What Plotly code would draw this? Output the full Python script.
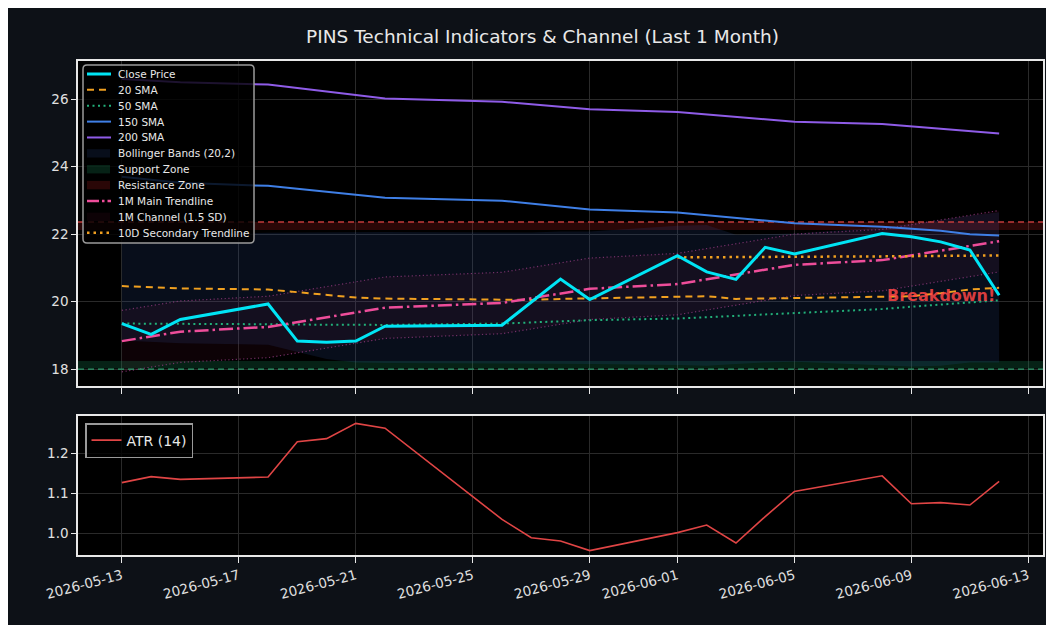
import plotly.graph_objects as go
from plotly.subplots import make_subplots

# ---------------- data ----------------
dates = ["2026-05-13", "2026-05-14", "2026-05-15", "2026-05-18", "2026-05-19",
         "2026-05-20", "2026-05-21", "2026-05-22", "2026-05-26", "2026-05-27",
         "2026-05-28", "2026-05-29", "2026-06-01", "2026-06-02", "2026-06-03",
         "2026-06-04", "2026-06-05", "2026-06-08", "2026-06-09", "2026-06-10",
         "2026-06-11", "2026-06-12"]

close = [19.35, 19.03, 19.47, 19.93, 18.83, 18.80, 18.83, 19.27, 19.30, 19.98,
         20.67, 20.06, 21.36, 20.88, 20.66, 21.61, 21.41, 22.02, 21.92, 21.77,
         21.53, 20.19]

sma20 = [20.46, 20.42, 20.39, 20.36, 20.28, 20.18, 20.12, 20.09, 20.05, 20.05,
         20.08, 20.10, 20.16, 20.16, 20.08, 20.09, 20.10, 20.14, 20.16, 20.25,
         20.36, 20.41]

sma50 = [19.35, 19.35, 19.34, 19.33, 19.32, 19.31, 19.30, 19.31, 19.35, 19.38,
         19.42, 19.45, 19.50, 19.54, 19.57, 19.61, 19.65, 19.78, 19.85, 19.92,
         19.98, 20.04]

sma150 = [23.70, 23.62, 23.52, 23.43, 23.34, 23.25, 23.16, 23.08, 22.99, 22.90,
          22.81, 22.73, 22.64, 22.56, 22.48, 22.40, 22.32, 22.22, 22.17, 22.10,
          22.00, 21.96]

sma200 = [26.60, 26.55, 26.50, 26.43, 26.33, 26.22, 26.12, 26.02, 25.92, 25.85,
          25.78, 25.70, 25.62, 25.55, 25.47, 25.40, 25.33, 25.26, 25.19, 25.12,
          25.05, 24.98]

bb_upper = [22.00, 22.00, 22.02, 22.04, 22.05, 22.05, 22.06, 22.06, 22.05, 22.05,
            22.08, 22.08, 22.25, 22.27, 21.98, 22.00, 22.02, 22.20, 22.30, 22.42,
            22.55, 22.65]

bb_lower = [18.85, 18.80, 18.77, 18.72, 18.50, 18.30, 18.20, 18.18, 18.17, 18.17,
            18.16, 18.15, 18.12, 18.10, 18.15, 18.20, 18.22, 18.12, 18.08, 18.10,
            18.20, 18.20]

trend_main = [18.83, 18.97, 19.11, 19.25, 19.39, 19.54, 19.68, 19.82, 19.96, 20.10,
              20.24, 20.38, 20.52, 20.66, 20.80, 20.95, 21.09, 21.23, 21.37, 21.51,
              21.65, 21.79]

channel_upper = [19.74, 19.88, 20.02, 20.16, 20.30, 20.45, 20.59, 20.73, 20.87, 21.01,
                 21.15, 21.29, 21.43, 21.57, 21.71, 21.86, 22.00, 22.14, 22.28, 22.42,
                 22.56, 22.70]

channel_lower = [17.92, 18.06, 18.20, 18.34, 18.48, 18.63, 18.77, 18.91, 19.05, 19.19,
                 19.33, 19.47, 19.61, 19.75, 19.89, 20.04, 20.18, 20.32, 20.46, 20.60,
                 20.74, 20.88]

trend10_dates = ["2026-06-01", "2026-06-02", "2026-06-03", "2026-06-04", "2026-06-05",
                 "2026-06-08", "2026-06-09", "2026-06-10", "2026-06-11", "2026-06-12"]
trend10 = [21.31, 21.32, 21.32, 21.33, 21.33, 21.34, 21.35, 21.35, 21.36, 21.37]

atr = [1.126, 1.141, 1.134, 1.140, 1.228, 1.236, 1.274, 1.262, 1.034, 0.988,
       0.980, 0.956, 1.001, 1.020, 0.975, 1.041, 1.104, 1.143, 1.073, 1.076,
       1.070, 1.129]

support_level = 18.0
support_zone = [18.02, 18.24]
resistance_level = 22.36
resistance_zone = [22.12, 22.36]

x_range = ["2026-05-11 12:00", "2026-06-13 12:00"]
x_ticks = ["2026-05-13", "2026-05-17", "2026-05-21", "2026-05-25", "2026-05-29",
           "2026-06-01", "2026-06-05", "2026-06-09", "2026-06-13"]
price_range = [17.5, 27.13]
atr_range = [0.945, 1.2925]
price_ticks = [18, 20, 22, 24, 26]
atr_ticks = [1.0, 1.1, 1.2]

title_text = "PINS Technical Indicators & Channel (Last 1 Month)"
signal_text = "Breakdown!"

# ---------------- styles ----------------
FONT = "DejaVu Sans"
OFF = 8                     # page body margin
W, H = 1054, 625
ML, MR, MT, MB = 70, 19, 53, 78
PW, PH = W - ML - MR, H - MT - MB

C_CLOSE = "#00e5f5"
C_ORANGE = "#f0a020"
C_GREEN = "#22b07a"
C_BLUE = "#3f7fe6"
C_PURPLE = "#8f5ce8"
C_PINK = "#ee4d9a"
F_BB = "rgba(45,80,150,0.18)"
F_SUP = "rgba(30,170,110,0.20)"
F_RES = "rgba(190,30,30,0.22)"
F_CH = "rgba(255,40,120,0.05)"
D_DASH = "7px,5px"
D_DOT = "2px,3.5px"
D_DASHDOT = "14px,4px,2.5px,4px"
D_DOT10 = "2.5px,4px"


def PX(x_ref):
    return (x_ref - OFF - ML) / PW


def PY(y_ref):
    return (H - MB - (y_ref - OFF)) / PH


fig = make_subplots(rows=2, cols=1, shared_xaxes=True)

zone_x = [x_range[0], x_range[1], x_range[1], x_range[0]]

fig.add_trace(go.Scatter(x=zone_x, y=[support_zone[0], support_zone[0], support_zone[1], support_zone[1]],
                         fill="toself", fillcolor=F_SUP, mode="lines", line=dict(width=0),
                         showlegend=False, hoverinfo="skip"), row=1, col=1)
fig.add_trace(go.Scatter(x=zone_x, y=[resistance_zone[0], resistance_zone[0], resistance_zone[1], resistance_zone[1]],
                         fill="toself", fillcolor=F_RES, mode="lines", line=dict(width=0),
                         showlegend=False, hoverinfo="skip"), row=1, col=1)

fig.add_trace(go.Scatter(x=dates, y=bb_upper, mode="lines", line=dict(width=0, color="rgba(0,0,0,0)"),
                         showlegend=False, hoverinfo="skip"), row=1, col=1)
fig.add_trace(go.Scatter(x=dates, y=bb_lower, mode="lines", line=dict(width=0, color="rgba(0,0,0,0)"),
                         fill="tonexty", fillcolor=F_BB, showlegend=False), row=1, col=1)

fig.add_trace(go.Scatter(x=dates, y=channel_upper, mode="lines",
                         line=dict(width=1.2, color="rgba(150,60,130,0.75)", dash="1.2px,2.5px"),
                         showlegend=False, hoverinfo="skip"), row=1, col=1)
fig.add_trace(go.Scatter(x=dates, y=channel_lower, mode="lines",
                         line=dict(width=1.2, color="rgba(150,60,130,0.75)", dash="1.2px,2.5px"),
                         fill="tonexty", fillcolor=F_CH, showlegend=False), row=1, col=1)

fig.add_trace(go.Scatter(x=x_range, y=[support_level, support_level], mode="lines",
                         line=dict(width=1.3, color="#2f9e6e", dash="6px,4px"),
                         showlegend=False, hoverinfo="skip"), row=1, col=1)
fig.add_trace(go.Scatter(x=x_range, y=[resistance_level, resistance_level], mode="lines",
                         line=dict(width=1.3, color="#c23b3b", dash="6px,4px"),
                         showlegend=False, hoverinfo="skip"), row=1, col=1)

fig.add_trace(go.Scatter(x=dates, y=sma200, mode="lines", line=dict(width=2, color=C_PURPLE),
                         name="200 SMA", showlegend=False), row=1, col=1)
fig.add_trace(go.Scatter(x=dates, y=sma150, mode="lines", line=dict(width=2, color=C_BLUE),
                         name="150 SMA", showlegend=False), row=1, col=1)
fig.add_trace(go.Scatter(x=dates, y=sma50, mode="lines", line=dict(width=2, color=C_GREEN, dash=D_DOT),
                         name="50 SMA", showlegend=False), row=1, col=1)
fig.add_trace(go.Scatter(x=dates, y=sma20, mode="lines", line=dict(width=2, color=C_ORANGE, dash=D_DASH),
                         name="20 SMA", showlegend=False), row=1, col=1)
fig.add_trace(go.Scatter(x=dates, y=trend_main, mode="lines",
                         line=dict(width=2.5, color=C_PINK, dash=D_DASHDOT),
                         name="1M Main Trendline", showlegend=False), row=1, col=1)
fig.add_trace(go.Scatter(x=trend10_dates, y=trend10, mode="lines",
                         line=dict(width=2.5, color=C_ORANGE, dash=D_DOT10),
                         name="10D Secondary Trendline", showlegend=False), row=1, col=1)
fig.add_trace(go.Scatter(x=dates, y=close, mode="lines", line=dict(width=3, color=C_CLOSE),
                         name="Close Price", showlegend=False), row=1, col=1)

fig.add_trace(go.Scatter(x=dates, y=atr, mode="lines", line=dict(width=1.6, color="#e04545"),
                         name="ATR (14)", legend="legend2", showlegend=True), row=2, col=1)

fig.add_annotation(x=dates[-1], y=close[-1], xref="x", yref="y", text="<b>" + signal_text + "</b>",
                   showarrow=False, xanchor="right", yanchor="middle", xshift=-2, yshift=0,
                   font=dict(family=FONT, size=16, color="rgba(255,70,70,0.85)"))

# ---------------- legend of the price panel (drawn as a matplotlib-style box) ----------------
legend_items = [
    ("Close Price", "line", dict(color=C_CLOSE, width=3)),
    ("20 SMA", "line", dict(color=C_ORANGE, width=2, dash=D_DASH)),
    ("50 SMA", "line", dict(color=C_GREEN, width=2, dash=D_DOT)),
    ("150 SMA", "line", dict(color=C_BLUE, width=2)),
    ("200 SMA", "line", dict(color=C_PURPLE, width=2)),
    ("Bollinger Bands (20,2)", "patch", F_BB),
    ("Support Zone", "patch", F_SUP),
    ("Resistance Zone", "patch", F_RES),
    ("1M Main Trendline", "line", dict(color=C_PINK, width=2.5, dash="12px,3px,2.5px,3px")),
    ("1M Channel (1.5 SD)", "patch", F_CH),
    ("10D Secondary Trendline", "line", dict(color=C_ORANGE, width=2.5, dash=D_DOT10)),
]

bx0, bx1, by0, by1, rad = 83, 254, 65, 243, 4
rx, ry = rad / PW, rad / PH
X0, X1, Y0, Y1 = PX(bx0), PX(bx1), PY(by0), PY(by1)
path = (f"M {X0 + rx},{Y0} L {X1 - rx},{Y0} Q {X1},{Y0} {X1},{Y0 - ry} "
        f"L {X1},{Y1 + ry} Q {X1},{Y1} {X1 - rx},{Y1} L {X0 + rx},{Y1} "
        f"Q {X0},{Y1} {X0},{Y1 + ry} L {X0},{Y0 - ry} Q {X0},{Y0} {X0 + rx},{Y0} Z")
fig.add_shape(type="path", path=path, xref="paper", yref="paper", layer="above",
              fillcolor="rgba(0,0,0,0.8)", line=dict(color="#9a9a9a", width=1.5))

row_y0, row_dy = 74, 15.87
for i, (label, kind, style) in enumerate(legend_items):
    yc = row_y0 + i * row_dy
    if kind == "line":
        fig.add_shape(type="line", xref="paper", yref="paper", layer="above",
                      x0=PX(87), x1=PX(111), y0=PY(yc), y1=PY(yc), line=style)
    else:
        fig.add_shape(type="rect", xref="paper", yref="paper", layer="above",
                      x0=PX(87), x1=PX(110), y0=PY(yc - 4.2), y1=PY(yc + 4.2),
                      fillcolor=style, line=dict(width=0))
    fig.add_annotation(x=PX(116), y=PY(yc), xref="paper", yref="paper", text=label,
                       showarrow=False, xanchor="left", yanchor="middle",
                       font=dict(family=FONT, size=10.5, color="#e8e8e8"))

axis_common = dict(showline=True, mirror=True, linecolor="#e8e8e8", linewidth=1.5,
                   gridcolor="#2a2a2a", gridwidth=1, zeroline=False,
                   ticks="outside", tickcolor="#e8e8e8", tickwidth=1.3,
                   tickfont=dict(family=FONT, size=13.5, color="#e0e0e0"))

top_dom0 = (H - MB - (386 - OFF)) / PH
bot_dom1 = (H - MB - (416 - OFF)) / PH

fig.update_xaxes(**axis_common, range=x_range, type="date", tickvals=x_ticks,
                 tickformat="%Y-%m-%d", ticklen=6)
fig.update_xaxes(showticklabels=False, row=1, col=1)
fig.update_xaxes(showticklabels=True, tickangle=-15, row=2, col=1)
fig.update_yaxes(**axis_common, ticklen=5)
fig.update_yaxes(range=price_range, tickvals=price_ticks, domain=[top_dom0, 1], row=1, col=1)
fig.update_yaxes(range=atr_range, tickvals=atr_ticks, tickformat=".1f", domain=[0, bot_dom1], row=2, col=1)

fig.update_layout(
    width=W, height=H,
    margin=dict(l=ML, r=MR, t=MT, b=MB),
    paper_bgcolor="#0d1117", plot_bgcolor="#000000",
    font=dict(family=FONT, color="#e0e0e0"),
    title=dict(text=title_text, x=PX(542.5), xref="paper", xanchor="center",
               y=1 - (37 - OFF) / H, yanchor="middle",
               font=dict(family=FONT, size=18.5, color="#e8e8e8")),
    showlegend=True,
    legend2=dict(x=PX(85), y=PY(423), xanchor="left", yanchor="top",
                 bgcolor="rgba(0,0,0,0.8)", bordercolor="#9a9a9a", borderwidth=1.5,
                 font=dict(family=FONT, size=14, color="#e8e8e8"), itemwidth=30),
)

fig.write_html("out.html")
